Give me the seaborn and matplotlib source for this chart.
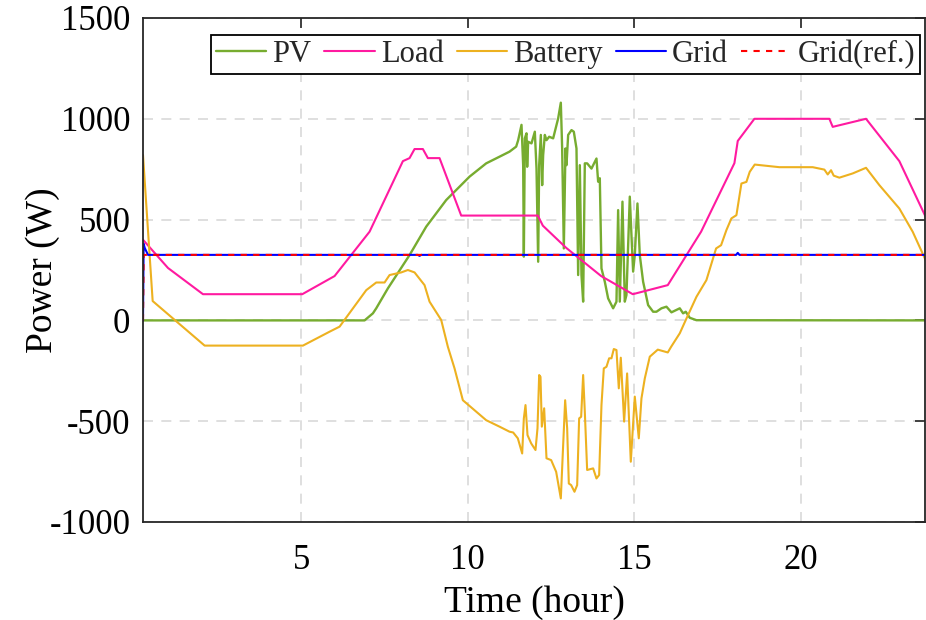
import matplotlib
matplotlib.use("Agg")
import matplotlib.pyplot as plt
import seaborn as sns
import pandas as pd

# Time axis (hour) and power (W) for each flow
pv_t = [0.25, 6.9, 7.15, 7.25, 7.6, 8.25, 8.75, 9.35, 10.05, 10.55, 10.95, 11.25,
        11.45, 11.51, 11.61, 11.66, 11.68, 11.71, 11.76, 11.78, 11.81, 11.91, 12.01,
        12.06, 12.11, 12.14, 12.19, 12.23, 12.26, 12.31, 12.36, 12.44, 12.56, 12.71,
        12.79, 12.83, 12.88, 12.93, 12.96, 13.01, 13.11, 13.18, 13.26, 13.31, 13.36,
        13.41, 13.46, 13.51, 13.58, 13.71, 13.86, 13.91, 13.96, 14.01, 14.11, 14.21,
        14.36, 14.46, 14.51, 14.56, 14.64, 14.71, 14.76, 14.86, 14.91, 14.96, 15.01,
        15.09, 15.16, 15.26, 15.41, 15.56, 15.66, 15.81, 15.96, 16.11, 16.36, 16.46,
        16.54, 16.66, 16.86, 23.75]
pv_w = [0, 0, 35, 60, 159, 324, 465, 597, 713, 779, 812, 837,
        862, 894, 970, 770, 316, 903, 928, 762, 886, 878, 936,
        753, 291, 770, 920, 671, 820, 920, 894, 911, 903, 1002,
        1080, 853, 357, 853, 770, 920, 944, 936, 853, 225, 770,
        225, 93, 779, 779, 753, 803, 688, 705, 258, 192, 109,
        60, 93, 547, 93, 589, 93, 126, 614, 423, 242, 324,
        580, 324, 192, 76, 43, 43, 60, 68, 40, 60, 35,
        43, 13, 1, 0]

load_t = [0.25, 1.0, 2.05, 5.03, 6.0, 7.05, 8.05, 8.25, 8.4, 8.65, 8.8, 9.15, 9.8,
          12.1, 12.25, 12.95, 14.0, 14.95, 16.0, 17.0, 18.0, 18.1, 18.6, 20.85,
          20.95, 21.95, 22.95, 23.75]
load_w = [400, 260, 130, 130, 220, 440, 790, 805, 850, 850, 805, 805, 520,
          520, 470, 360, 220, 130, 175, 440, 780, 890, 1000, 1000,
          960, 1000, 790, 510]

battery_t = [0.25, 0.28, 0.54, 2.1, 5.05, 5.85, 6.15, 6.95, 7.25, 7.5, 7.65, 8.0,
             8.2, 8.4, 8.7, 8.85, 9.2, 9.4, 9.6, 9.85, 10.55, 10.95, 11.25, 11.36,
             11.5, 11.63, 11.68, 11.73, 11.79, 11.9, 12.03, 12.09, 12.14, 12.18,
             12.22, 12.29, 12.36, 12.5, 12.65, 12.79, 12.86, 12.92, 12.98, 13.03,
             13.1, 13.2, 13.28, 13.34, 13.4, 13.46, 13.51, 13.58, 13.76, 13.86,
             13.94, 14.01, 14.08, 14.16, 14.24, 14.31, 14.38, 14.46, 14.53, 14.59,
             14.69, 14.78, 14.89, 15.01, 15.13, 15.21, 15.31, 15.46, 15.7, 16.0,
             16.1, 16.36, 16.54, 16.86, 17.16, 17.45, 17.6, 17.76, 17.91, 18.06,
             18.21, 18.36, 18.46, 18.61, 19.35, 20.35, 20.7, 20.8, 20.9, 20.98,
             21.15, 21.55, 21.95, 22.35, 22.95, 23.35, 23.75]
battery_w = [820, 745, 96, -125, -125, -56, -31, 150, 188, 188, 225, 238,
             250, 238, 175, 93, 2, -131, -238, -396, -495, -527, -552, -556,
             -585, -660, -486, -420, -569, -610, -643, -535, -271, -280,
             -527, -436, -684, -693, -751, -883, -619, -396, -535, -809,
             -817, -850, -817, -486, -478, -271, -453, -742, -734, -784,
             -767, -420, -238, -230, -188, -188, -142, -147, -337, -185,
             -502, -263, -701, -378, -585, -387, -288, -180, -145, -159,
             -131, -64, 2, 117, 200, 357, 373, 448, 506, 522,
             679, 687, 737, 773, 760, 760, 748, 724, 745, 718,
             708, 729, 757, 671, 555, 440, 295]

grid_t = [0.25, 0.27, 0.30, 0.40, 8.50, 8.55, 8.60, 18.05, 18.10, 18.15, 23.75]
grid_w = [0, 380, 360, 325, 325, 320, 325, 325, 335, 325, 325]

grid_ref_t = [0.25, 0.27, 23.75]
grid_ref_w = [0, 325, 325]

x_ticks = [5, 10, 15, 20]
y_ticks = [-1000, -500, 0, 500, 1000, 1500]

series = [
    ("PV", pv_t, pv_w, "#77AC30", "-", 1.7),
    ("Load", load_t, load_w, "#FF1AA0", "-", 1.5),
    ("Battery", battery_t, battery_w, "#EDB120", "-", 1.5),
    ("Grid", grid_t, grid_w, "#0000FF", "-", 1.5),
    ("Grid(ref.)", grid_ref_t, grid_ref_w, "#FF0000", (0, (3, 3)), 1.5),
]

sns.set_theme(style="white")
plt.rcParams["font.family"] = ["Liberation Serif", "DejaVu Serif"]
plt.rcParams["axes.unicode_minus"] = False

fig = plt.figure(figsize=(9.26, 6.2), dpi=100)
ax = fig.add_axes([143 / 926, 1 - 522 / 620, 782 / 926, 504 / 620])

for name, t, w, color, ls, lw in series:
    df = pd.DataFrame({"Time": t, "Power": w})
    sns.lineplot(data=df, x="Time", y="Power", ax=ax, color=color, label=name,
                 linestyle=ls, linewidth=lw, estimator=None, sort=False)

ax.set_xlim(0.25, 23.72)
ax.set_ylim(-1000, 1500)
ax.set_xticks(x_ticks)
ax.set_yticks(y_ticks)
ax.grid(True, color="#d9d9d9", linestyle=(0, (6, 5)), linewidth=1.2)
ax.set_axisbelow(True)

ax.tick_params(direction="in", top=True, right=True, length=7, width=1.2,
               labelsize=25, colors="#262626")
ax.tick_params(axis="y", pad=9)
ax.tick_params(axis="x", pad=16)
for tl in ax.get_xticklabels() + ax.get_yticklabels():
    tl.set_color("black")
for sp in ax.spines.values():
    sp.set_color("#262626")
    sp.set_linewidth(1.3)

ax.set_xlabel("Time (hour)", fontsize=27, color="black", labelpad=6)
ax.set_ylabel("Power (W)", fontsize=27, color="black")
ax.yaxis.set_label_coords(-0.106, 0.5)

leg = ax.legend(loc="upper right", bbox_to_anchor=(0.9936, 0.9663), ncol=5,
                fontsize=22, frameon=True, fancybox=False, borderaxespad=0,
                handlelength=1.65, handletextpad=0.2, columnspacing=0.42,
                borderpad=0.16, labelspacing=0.1)
leg.get_frame().set_edgecolor("black")
leg.get_frame().set_linewidth(1.3)
leg.get_frame().set_alpha(1)

fig.savefig("out.png", dpi=100)
